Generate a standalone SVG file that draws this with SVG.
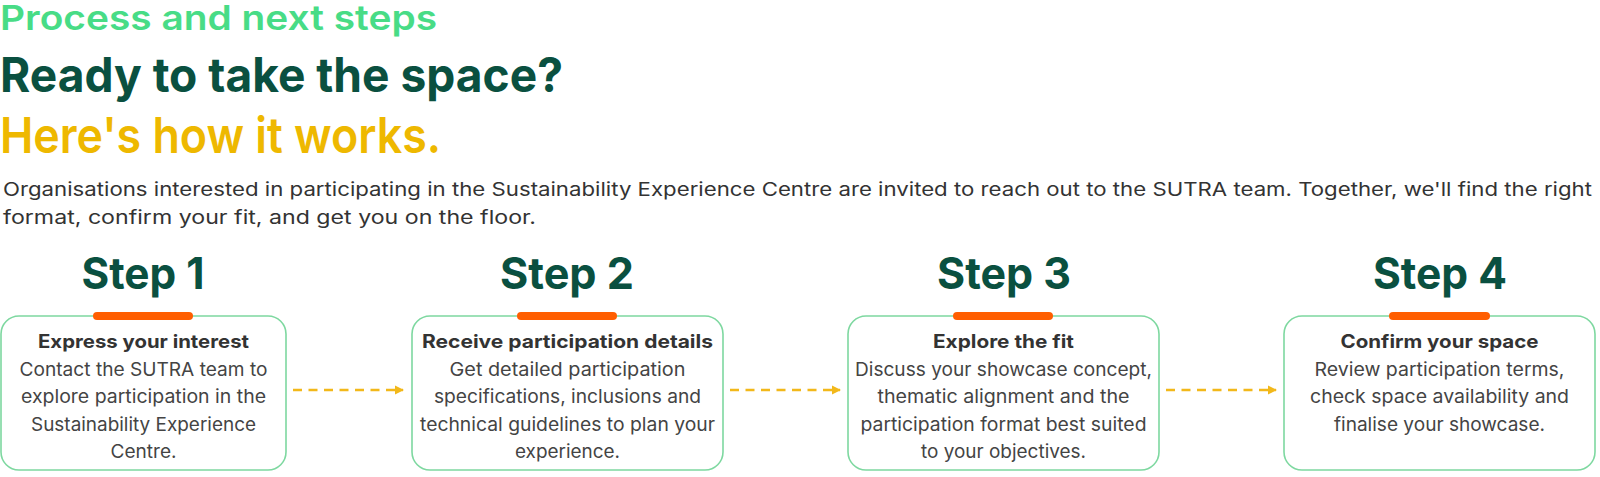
<svg xmlns="http://www.w3.org/2000/svg" width="1600" height="477" viewBox="0 0 1600 477">
  <style>
    .h1 { font-family: Inter, "Liberation Sans", sans-serif; font-weight: 600; font-size: 34px; fill: #48DC86; }
    .h2 { font-family: Inter, "Liberation Sans", sans-serif; font-weight: 700; font-size: 48px; fill: #0A5040; }
    .h3 { font-family: Inter, "Liberation Sans", sans-serif; font-weight: 600; font-size: 50px; fill: #EEB800; }
    .para { font-family: Inter, "Liberation Sans", sans-serif; font-size: 18.5px; fill: #333333; }
    .step { font-family: Inter, "Liberation Sans", sans-serif; font-weight: 700; font-size: 44px; fill: #0A5040; text-anchor: middle; }
    .title { font-family: Inter, "Liberation Sans", sans-serif; font-weight: 700; font-size: 18.5px; fill: #333333; text-anchor: middle; }
    .body { font-family: Inter, "Liberation Sans", sans-serif; font-size: 18.5px; fill: #444444; text-anchor: middle; }
    .box { fill: #FFFFFF; stroke: #7ED8A0; stroke-width: 1.6; }
    .bar { fill: #FF5E00; }
    .conn { stroke: #F2B81A; stroke-width: 2.5; stroke-dasharray: 9 6.5; fill: none; }
  </style>
  <defs>
    <marker id="ah" markerWidth="10" markerHeight="10" refX="8" refY="5" orient="auto" markerUnits="userSpaceOnUse">
      <path d="M0,0.5 L9,5 L0,9.5 Z" fill="#F2B81A"/>
    </marker>
  </defs>
  <rect width="1600" height="477" fill="#FFFFFF"/>

  <g id="header">
    <text class="h1" x="0" y="30" textLength="437" lengthAdjust="spacingAndGlyphs">Process and next steps</text>
    <text class="h2" x="0" y="92" textLength="563" lengthAdjust="spacingAndGlyphs">Ready to take the space?</text>
    <text class="h3" x="0" y="153" textLength="441" lengthAdjust="spacingAndGlyphs">Here's how it works.</text>
    <text class="para" x="3" y="196" textLength="1589" lengthAdjust="spacingAndGlyphs">Organisations interested in participating in the Sustainability Experience Centre are invited to reach out to the SUTRA team. Together, we'll find the right</text>
    <text class="para" x="3" y="224" textLength="533" lengthAdjust="spacingAndGlyphs">format, confirm your fit, and get you on the floor.</text>
  </g>

  <g id="connectors">
    <line class="conn" x1="293" y1="390" x2="403" y2="390" marker-end="url(#ah)"/>
    <line class="conn" x1="730" y1="390" x2="840" y2="390" marker-end="url(#ah)"/>
    <line class="conn" x1="1166" y1="390" x2="1276" y2="390" marker-end="url(#ah)"/>
  </g>

  <g id="step1">
    <text class="step" x="143" y="289" textLength="123" lengthAdjust="spacingAndGlyphs">Step 1</text>
    <rect class="box" x="1" y="316" width="285" height="154" rx="18"/>
    <rect class="bar" x="93" y="312" width="100" height="8" rx="4"/>
    <text class="title" x="143.5" y="348" textLength="211" lengthAdjust="spacingAndGlyphs">Express your interest</text>
    <text class="body" x="143.5" y="376" textLength="248" lengthAdjust="spacingAndGlyphs">Contact the SUTRA team to</text>
    <text class="body" x="143.5" y="403" textLength="245" lengthAdjust="spacingAndGlyphs">explore participation in the</text>
    <text class="body" x="143.5" y="431" textLength="225" lengthAdjust="spacingAndGlyphs">Sustainability Experience</text>
    <text class="body" x="143.5" y="458" textLength="66" lengthAdjust="spacingAndGlyphs">Centre.</text>
  </g>

  <g id="step2">
    <text class="step" x="567" y="289" textLength="134" lengthAdjust="spacingAndGlyphs">Step 2</text>
    <rect class="box" x="412" y="316" width="311" height="154" rx="18"/>
    <rect class="bar" x="517" y="312" width="100" height="8" rx="4"/>
    <text class="title" x="567.5" y="348" textLength="291" lengthAdjust="spacingAndGlyphs">Receive participation details</text>
    <text class="body" x="567.5" y="376" textLength="236" lengthAdjust="spacingAndGlyphs">Get detailed participation</text>
    <text class="body" x="567.5" y="403" textLength="267" lengthAdjust="spacingAndGlyphs">specifications, inclusions and</text>
    <text class="body" x="567.5" y="431" textLength="295" lengthAdjust="spacingAndGlyphs">technical guidelines to plan your</text>
    <text class="body" x="567.5" y="458" textLength="105" lengthAdjust="spacingAndGlyphs">experience.</text>
  </g>

  <g id="step3">
    <text class="step" x="1004" y="289" textLength="134" lengthAdjust="spacingAndGlyphs">Step 3</text>
    <rect class="box" x="848" y="316" width="311" height="154" rx="18"/>
    <rect class="bar" x="953" y="312" width="100" height="8" rx="4"/>
    <text class="title" x="1003.5" y="348" textLength="141" lengthAdjust="spacingAndGlyphs">Explore the fit</text>
    <text class="body" x="1003.5" y="376" textLength="297" lengthAdjust="spacingAndGlyphs">Discuss your showcase concept,</text>
    <text class="body" x="1003.5" y="403" textLength="252" lengthAdjust="spacingAndGlyphs">thematic alignment and the</text>
    <text class="body" x="1003.5" y="431" textLength="286" lengthAdjust="spacingAndGlyphs">participation format best suited</text>
    <text class="body" x="1003.5" y="458" textLength="165" lengthAdjust="spacingAndGlyphs">to your objectives.</text>
  </g>

  <g id="step4">
    <text class="step" x="1440" y="289" textLength="134" lengthAdjust="spacingAndGlyphs">Step 4</text>
    <rect class="box" x="1284" y="316" width="311" height="154" rx="18"/>
    <rect class="bar" x="1389" y="312" width="101" height="8" rx="4"/>
    <text class="title" x="1439.5" y="348" textLength="198" lengthAdjust="spacingAndGlyphs">Confirm your space</text>
    <text class="body" x="1439.5" y="376" textLength="250" lengthAdjust="spacingAndGlyphs">Review participation terms,</text>
    <text class="body" x="1439.5" y="403" textLength="259" lengthAdjust="spacingAndGlyphs">check space availability and</text>
    <text class="body" x="1439.5" y="431" textLength="211" lengthAdjust="spacingAndGlyphs">finalise your showcase.</text>
  </g>
</svg>
